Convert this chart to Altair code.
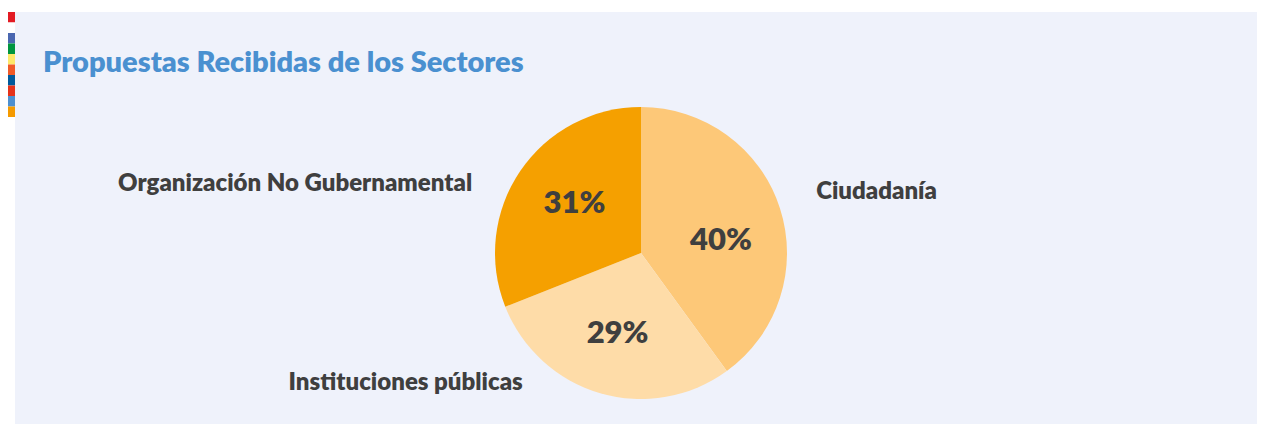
import altair as alt
import pandas as pd

categories = ["Ciudadanía", "Instituciones públicas", "Organización No Gubernamental"]
values = [40, 29, 31]
slice_colors = ["#fdc878", "#fedca8", "#f5a000"]
strip_colors = ["#e31b23", "#ffffff", "#4a67b0", "#00963f", "#fde96a",
                "#f05a28", "#005a9c", "#e6331a", "#4d90d0", "#f59a00"]
title_text = "Propuestas Recibidas de los Sectores"

FONT = "Lato"
TXT = "#3f3f3f"
CX, CY = 626, 241  # pie centre inside the view
R = 146

df = pd.DataFrame({"cat": categories, "value": values, "order": list(range(len(categories)))})
strip = pd.DataFrame({"c": strip_colors, "i": list(range(len(strip_colors)))})

base = (
    alt.Chart(df)
    .transform_joinaggregate(total="sum(value)")
    .transform_window(cum="sum(value)", sort=[alt.SortField("order")], frame=[None, 0])
    .transform_calculate(
        end="datum.cum / datum.total",
        start="(datum.cum - datum.value) / datum.total",
        pct="round(datum.value / datum.total * 100) + '%'",
    )
    .transform_calculate(mid="(datum.start + datum.end) / 2")
)

tscale = alt.Scale(domain=[0, 1])

arcs = base.mark_arc(radius=R, stroke=None).encode(
    theta=alt.Theta("start:Q", scale=tscale),
    theta2="end:Q",
    color=alt.Color("cat:N", scale=alt.Scale(domain=categories, range=slice_colors), legend=None),
    x=alt.value(CX), y=alt.value(CY),
)


def pct_layer(cat, dx, dy):
    return base.transform_filter(alt.datum.cat == cat).mark_text(
        radius=84, fontSize=31, fontWeight=800, font=FONT, color=TXT,
        baseline="middle", align="center", dx=dx, dy=dy).encode(
        theta=alt.Theta("mid:Q", scale=tscale), text="pct:N", x=alt.value(CX), y=alt.value(CY),
    )


def out_layer(cat, align, dx, dy):
    return base.transform_filter(alt.datum.cat == cat).mark_text(
        radius=180, fontSize=24, fontWeight=800, font=FONT, color=TXT,
        baseline="middle", align=align, dx=dx, dy=dy).encode(
        theta=alt.Theta("mid:Q", scale=tscale), text="cat:N", x=alt.value(CX), y=alt.value(CY),
    )


title = alt.Chart(pd.DataFrame({"t": [title_text]})).mark_text(
    fontSize=29, fontWeight=800, font=FONT, color="#4a90d0", align="left", baseline="middle"
).encode(text="t:N", x=alt.value(28), y=alt.value(51))

squares = alt.Chart(strip).transform_calculate(i2="datum.i + 1").mark_rect().encode(
    y=alt.Y("i:Q", scale=alt.Scale(domain=[0, 10], range=[0, 105]), axis=None),
    y2="i2:Q",
    x=alt.value(-7), x2=alt.value(0),
    color=alt.Color("c:N", scale=None),
)

chart = alt.layer(
    squares,
    arcs,
    pct_layer("Ciudadanía", 0, 14),
    pct_layer("Instituciones públicas", 0, 0),
    pct_layer("Organización No Gubernamental", 3, -2),
    out_layer("Ciudadanía", "left", 4, -5),
    out_layer("Instituciones públicas", "right", -68, -43),
    out_layer("Organización No Gubernamental", "right", -20, 32),
    title,
).resolve_scale(color="independent").properties(
    width=1242, height=412,
    background="white",
    padding={"left": 7, "top": 4, "right": 0, "bottom": 0},
    autosize=alt.AutoSizeParams(type="none"),
).configure_view(fill="#eff2fb", stroke=None)

chart.save("out.html", embed_options={"renderer": "svg", "actions": False})
